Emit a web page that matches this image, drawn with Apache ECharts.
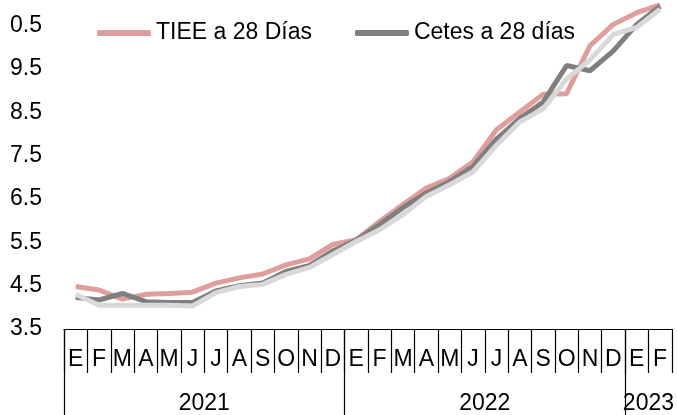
<!DOCTYPE html>
<html>
<head>
<meta charset="utf-8">
<script src="https://cdn.jsdelivr.net/npm/echarts@6/dist/echarts.min.js"></script>
<style>
  html, body { margin: 0; padding: 0; background: #fff; }
  #chart { width: 677px; height: 415px; }
</style>
</head>
<body>
<div id="chart"></div>
<script>
// meses (ene 2021 - feb 2023)
const months = ['E', 'F', 'M', 'A', 'M', 'J', 'J', 'A', 'S', 'O', 'N', 'D',
                'E', 'F', 'M', 'A', 'M', 'J', 'J', 'A', 'S', 'O', 'N', 'D',
                'E', 'F']
const years = ['2021', '2022', '2023']
const yearStarts = [0, 12, 24]
const yearCenters = [6, 18, 25]

// the top label is cut at the left edge of the source picture (10.5)
const yTickLabels = ['3.5', '4.5', '5.5', '6.5', '7.5', '8.5', '9.5', '0.5']

const tiee = [4.48, 4.40, 4.19, 4.30, 4.32, 4.35, 4.56, 4.68, 4.77, 4.98, 5.12, 5.45,
              5.56, 5.98, 6.37, 6.75, 6.98, 7.36, 8.10, 8.51, 8.92, 8.93, 10.04, 10.53,
              10.80, 10.98]
const cetes = [4.23, 4.17, 4.32, 4.13, 4.11, 4.11, 4.38, 4.50, 4.56, 4.83, 4.97, 5.30,
               5.55, 5.91, 6.30, 6.64, 6.90, 7.25, 7.88, 8.36, 8.74, 9.58, 9.46, 9.92,
               10.53, 10.95]
const otra = [4.30, 4.05, 4.05, 4.05, 4.05, 4.03, 4.34, 4.48, 4.53, 4.76, 4.92, 5.22,
              5.52, 5.79, 6.14, 6.56, 6.83, 7.13, 7.74, 8.28, 8.58, 9.27, 9.71, 10.30,
              10.46, 10.88]

// eje de años: 27 puntos en los bordes de cada mes
const yearSlots = []
for (let i = 0; i <= months.length; i++) {
    const k = yearCenters.indexOf(i)
    yearSlots.push(k >= 0 ? years[k] : '')
}

const font = 'Liberation Sans, Arial, sans-serif'
const chart = echarts.init(document.getElementById('chart'))

const option = {
    animation: false,
    grid: { left: 64, right: 3, top: 4, bottom: 86 },
    legend: {
        data: ['TIEE a 28 Días', 'Cetes a 28 días'],
        left: 92,
        top: 15,
        icon: 'roundRect',
        itemWidth: 54,
        itemHeight: 6,
        itemGap: 43,
        textStyle: { color: '#000', fontSize: 23, fontFamily: font, lineHeight: 26 }
    },
    xAxis: [
        {
            type: 'category',
            data: months,
            position: 'bottom',
            axisLine: { show: true, lineStyle: { color: '#000', width: 1.2 } },
            axisTick: { show: true, interval: 0, length: 44, lineStyle: { color: '#000', width: 1.2 } },
            axisLabel: { interval: 0, color: '#000', fontSize: 23, fontFamily: font, margin: 19, lineHeight: 23 }
        },
        {
            type: 'category',
            data: yearSlots,
            boundaryGap: false,
            position: 'bottom',
            axisLine: { show: false },
            axisTick: {
                show: true,
                length: 90,
                interval: (i) => yearStarts.includes(i),
                lineStyle: { color: '#000', width: 1.2 }
            },
            axisLabel: {
                interval: (i) => yearCenters.includes(i),
                color: '#000', fontSize: 23, fontFamily: font, margin: 63, lineHeight: 23
            }
        }
    ],
    yAxis: {
        type: 'value',
        min: 3.5,
        max: 11,
        interval: 1,
        splitLine: { show: false },
        axisLine: { show: false },
        axisTick: { show: false },
        axisLabel: {
            color: '#000',
            fontSize: 23,
            fontFamily: font,
            margin: 22,
            showMaxLabel: false,
            formatter: (v) => yTickLabels[Math.round(v - 3.5)] || ''
        }
    },
    series: [
        {
            name: 'TIEE a 28 Días',
            type: 'line',
            data: tiee,
            symbol: 'none',
            lineStyle: { color: '#df9d9c', width: 5 },
            itemStyle: { color: '#df9d9c' }
        },
        {
            name: 'Cetes a 28 días',
            type: 'line',
            data: cetes,
            symbol: 'none',
            lineStyle: { color: '#7f7f7f', width: 5 },
            itemStyle: { color: '#7f7f7f' }
        },
        {
            name: 'otra',
            type: 'line',
            data: otra,
            symbol: 'none',
            lineStyle: { color: '#d9d9d9', width: 5 },
            itemStyle: { color: '#d9d9d9' }
        }
    ]
}
chart.setOption(option)
</script>
</body>
</html>
